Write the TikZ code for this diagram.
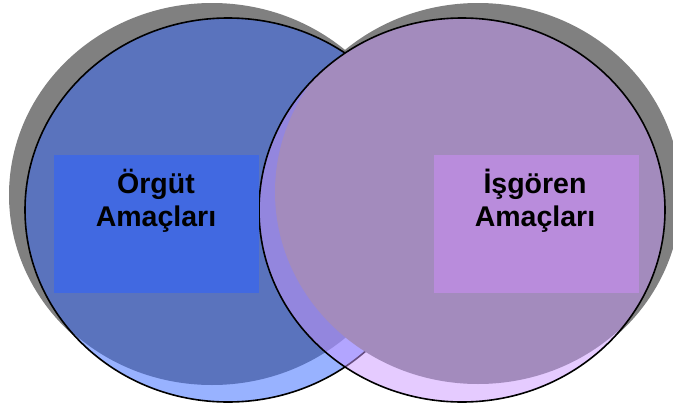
\documentclass[tikz,border=0pt]{standalone}
\usepackage{fontspec}
\setmainfont{Liberation Sans}
\begin{document}
\begin{tikzpicture}[x=1pt,y=-1pt,
  shadowfill/.style={fill=shadowgrey},
  rim/.style={draw=black,line width=1.6pt},
  labelbox/.style={inner sep=0pt,minimum width=205pt,minimum height=138pt},
  labeltext/.style={font=\fontsize{28.5}{33}\selectfont\bfseries,align=center,inner sep=0pt,anchor=base}]
\definecolor{shadowgrey}{RGB}{128,128,128}
\definecolor{orgdark}{RGB}{90,115,189}
\definecolor{orglight}{RGB}{51,102,255}
\definecolor{isdark}{RGB}{163,139,189}
\definecolor{islight}{RGB}{204,153,255}
\definecolor{orgbox}{RGB}{65,105,225}
\definecolor{isbox}{RGB}{185,140,220}
\useasboundingbox (0,0) rectangle (673,410);
\fill[white] (0,0) rectangle (673,410);

% drop shadows, kept outside their own discs
\begin{scope}[even odd rule]
  \clip (-20,-20) rectangle (700,430) (228,210) ellipse [x radius=203pt,y radius=192pt];
  \fill[shadowfill] (212,195) ellipse [x radius=203pt,y radius=192pt];
\end{scope}
\begin{scope}[even odd rule]
  \clip (-20,-20) rectangle (700,430) (462,210) ellipse [x radius=203pt,y radius=192pt];
  \fill[shadowfill] (478,195) ellipse [x radius=203pt,y radius=192pt];
\end{scope}

% left disc: light rim with a darker face pushed up and to the left
\fill[orglight,fill opacity=0.5] (228,210) ellipse [x radius=203pt,y radius=192pt];
\begin{scope}
  \clip (228,210) ellipse [x radius=203pt,y radius=192pt];
  \fill[orgdark] (212,193) ellipse [x radius=203pt,y radius=192pt];
\end{scope}
\draw[rim] (228,210) ellipse [x radius=203pt,y radius=192pt];

% right disc: translucent rim with an opaque face pushed up and to the right
\fill[islight,fill opacity=0.5] (462,210) ellipse [x radius=203pt,y radius=192pt];
\begin{scope}
  \clip (462,210) ellipse [x radius=203pt,y radius=192pt];
  \fill[isdark] (478,192) ellipse [x radius=203pt,y radius=192pt];
\end{scope}
\draw[rim] (462,210) ellipse [x radius=203pt,y radius=192pt];

% labels
\node[labelbox,fill=orgbox] (orgutbox) at (156.5,224) {};
\node[labelbox,fill=isbox] (isgorenbox) at (536,224) {};
\node[labeltext] (orguttext) at (156,226.3) {Örgüt\\Amaçları};
\node[labeltext] (isgorentext) at (535,226.3) {İşgören\\Amaçları};
\end{tikzpicture}
\end{document}
